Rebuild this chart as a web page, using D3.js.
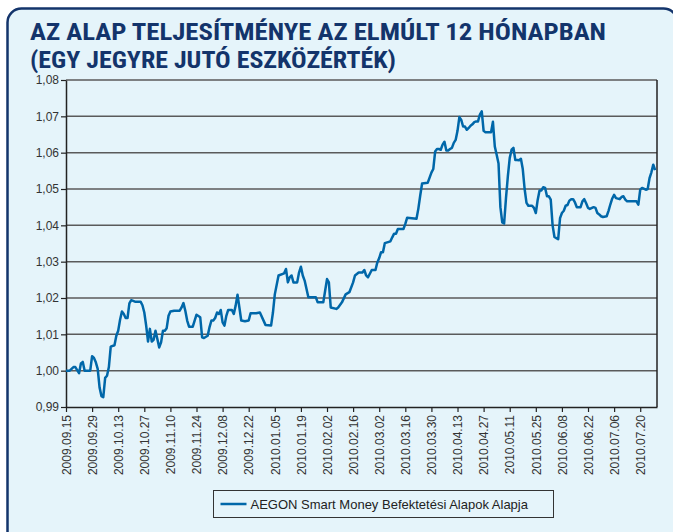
<!DOCTYPE html>
<html>
<head>
<meta charset="utf-8">
<script src="https://cdn.jsdelivr.net/npm/d3@7"></script>
<style>
  body { margin: 0; background: #fff; }
  svg { display: block; }
</style>
</head>
<body>
<div id="chart"></div>
<script>
// ---- data ----
const titleLines = ["AZ ALAP TELJESÍTMÉNYE AZ ELMÚLT 12 HÓNAPBAN", "(EGY JEGYRE JUTÓ ESZKÖZÉRTÉK)"];
const seriesName = "AEGON Smart Money Befektetési Alapok Alapja";
const dateRange = ["2009-09-15", "2010-07-29"];
const yTicks = [0.99, 1.00, 1.01, 1.02, 1.03, 1.04, 1.05, 1.06, 1.07, 1.08];
const xTickLabels = [
    "2009.09.15", "2009.09.29", "2009.10.13", "2009.10.27", "2009.11.10", "2009.11.24",
    "2009.12.08", "2009.12.22", "2010.01.05", "2010.01.19", "2010.02.02", "2010.02.16",
    "2010.03.02", "2010.03.16", "2010.03.30", "2010.04.13", "2010.04.27", "2010.05.11",
    "2010.05.25", "2010.06.08", "2010.06.22", "2010.07.06", "2010.07.20"
];

// net asset value per unit
const navPoints = [
    ["2009-09-15", 1.000], ["2009-09-17", 1.000], ["2009-09-19", 1.001], ["2009-09-20", 1.001],
    ["2009-09-22", 0.9993], ["2009-09-23", 1.002], ["2009-09-24", 1.0024], ["2009-09-25", 1.000],
    ["2009-09-28", 1.000], ["2009-09-29", 1.004], ["2009-09-30", 1.0035], ["2009-10-01", 1.0023],
    ["2009-10-02", 1.0005], ["2009-10-03", 0.9954], ["2009-10-04", 0.993], ["2009-10-05", 0.9927],
    ["2009-10-06", 0.998], ["2009-10-07", 0.9986], ["2009-10-08", 1.001], ["2009-10-09", 1.0066],
    ["2009-10-11", 1.007], ["2009-10-12", 1.0096], ["2009-10-13", 1.011], ["2009-10-14", 1.014],
    ["2009-10-15", 1.0163], ["2009-10-16", 1.0156], ["2009-10-17", 1.0145], ["2009-10-18", 1.0145],
    ["2009-10-19", 1.0185], ["2009-10-20", 1.0194], ["2009-10-22", 1.019], ["2009-10-25", 1.019],
    ["2009-10-26", 1.018], ["2009-10-27", 1.016], ["2009-10-28", 1.0124], ["2009-10-29", 1.008],
    ["2009-10-30", 1.0115], ["2009-10-31", 1.008], ["2009-11-01", 1.0085], ["2009-11-02", 1.011],
    ["2009-11-03", 1.0087], ["2009-11-04", 1.0064], ["2009-11-05", 1.0078], ["2009-11-06", 1.011],
    ["2009-11-07", 1.011], ["2009-11-08", 1.0117], ["2009-11-09", 1.0151], ["2009-11-10", 1.0163],
    ["2009-11-12", 1.0165], ["2009-11-15", 1.0165], ["2009-11-16", 1.0174], ["2009-11-17", 1.0186],
    ["2009-11-18", 1.0165], ["2009-11-19", 1.0138], ["2009-11-20", 1.0121], ["2009-11-22", 1.0121],
    ["2009-11-23", 1.0138], ["2009-11-24", 1.0154], ["2009-11-26", 1.0147], ["2009-11-27", 1.0092],
    ["2009-11-28", 1.009], ["2009-11-30", 1.0096], ["2009-12-01", 1.012], ["2009-12-02", 1.0138],
    ["2009-12-03", 1.0138], ["2009-12-04", 1.0145], ["2009-12-05", 1.016], ["2009-12-06", 1.0156],
    ["2009-12-07", 1.0167], ["2009-12-08", 1.0133], ["2009-12-09", 1.0124], ["2009-12-10", 1.0151],
    ["2009-12-11", 1.0167], ["2009-12-13", 1.0167], ["2009-12-14", 1.0156], ["2009-12-15", 1.0179],
    ["2009-12-16", 1.0209], ["2009-12-17", 1.0174], ["2009-12-18", 1.0138], ["2009-12-20", 1.0136],
    ["2009-12-22", 1.0138], ["2009-12-23", 1.0158], ["2009-12-26", 1.0158], ["2009-12-28", 1.016],
    ["2009-12-31", 1.0126], ["2010-01-03", 1.0124], ["2010-01-04", 1.016], ["2010-01-05", 1.021],
    ["2010-01-07", 1.0262], ["2010-01-10", 1.0268], ["2010-01-11", 1.028], ["2010-01-12", 1.0243],
    ["2010-01-13", 1.0257], ["2010-01-14", 1.0262], ["2010-01-15", 1.0243], ["2010-01-17", 1.0243],
    ["2010-01-18", 1.027], ["2010-01-19", 1.0286], ["2010-01-20", 1.0262], ["2010-01-21", 1.0248],
    ["2010-01-23", 1.0202], ["2010-01-27", 1.0202], ["2010-01-28", 1.0188], ["2010-01-31", 1.0188],
    ["2010-02-01", 1.022], ["2010-02-02", 1.0252], ["2010-02-03", 1.0243], ["2010-02-04", 1.0174],
    ["2010-02-07", 1.017], ["2010-02-08", 1.0174], ["2010-02-10", 1.0188], ["2010-02-12", 1.021],
    ["2010-02-14", 1.0216], ["2010-02-16", 1.0243], ["2010-02-17", 1.0262], ["2010-02-19", 1.027],
    ["2010-02-21", 1.027], ["2010-02-22", 1.0277], ["2010-02-23", 1.0262], ["2010-02-24", 1.0257],
    ["2010-02-26", 1.0277], ["2010-02-28", 1.0277], ["2010-03-01", 1.0298], ["2010-03-02", 1.031],
    ["2010-03-03", 1.0326], ["2010-03-04", 1.0326], ["2010-03-05", 1.0351], ["2010-03-08", 1.0356],
    ["2010-03-09", 1.0367], ["2010-03-10", 1.0377], ["2010-03-11", 1.0377], ["2010-03-12", 1.039],
    ["2010-03-15", 1.039], ["2010-03-16", 1.0404], ["2010-03-17", 1.0421], ["2010-03-22", 1.0418],
    ["2010-03-23", 1.0446], ["2010-03-24", 1.0482], ["2010-03-25", 1.0515], ["2010-03-28", 1.0517],
    ["2010-03-30", 1.0545], ["2010-03-31", 1.0555], ["2010-04-01", 1.0603], ["2010-04-02", 1.061],
    ["2010-04-03", 1.061], ["2010-04-04", 1.0608], ["2010-04-05", 1.0622], ["2010-04-06", 1.063],
    ["2010-04-07", 1.0606], ["2010-04-08", 1.0606], ["2010-04-09", 1.061], ["2010-04-10", 1.0613],
    ["2010-04-11", 1.0627], ["2010-04-12", 1.0635], ["2010-04-13", 1.066], ["2010-04-14", 1.0698],
    ["2010-04-15", 1.069], ["2010-04-16", 1.0672], ["2010-04-17", 1.0672], ["2010-04-18", 1.0663],
    ["2010-04-19", 1.0668], ["2010-04-20", 1.0674], ["2010-04-21", 1.0678], ["2010-04-22", 1.0684],
    ["2010-04-23", 1.0686], ["2010-04-24", 1.0686], ["2010-04-25", 1.0705], ["2010-04-26", 1.0714],
    ["2010-04-27", 1.066], ["2010-04-28", 1.0656], ["2010-04-30", 1.0656], ["2010-05-01", 1.0656],
    ["2010-05-02", 1.0685], ["2010-05-03", 1.0617], ["2010-05-04", 1.0594], ["2010-05-05", 1.057],
    ["2010-05-06", 1.045], ["2010-05-07", 1.0408], ["2010-05-08", 1.0405], ["2010-05-09", 1.0475],
    ["2010-05-10", 1.0535], ["2010-05-11", 1.0585], ["2010-05-12", 1.0608], ["2010-05-13", 1.0613],
    ["2010-05-14", 1.058], ["2010-05-15", 1.058], ["2010-05-16", 1.0579], ["2010-05-17", 1.0583],
    ["2010-05-18", 1.0555], ["2010-05-19", 1.050], ["2010-05-20", 1.0462], ["2010-05-21", 1.0454],
    ["2010-05-23", 1.0454], ["2010-05-24", 1.0448], ["2010-05-25", 1.0434], ["2010-05-26", 1.047],
    ["2010-05-27", 1.0496], ["2010-05-28", 1.0496], ["2010-05-29", 1.0505], ["2010-05-30", 1.0503],
    ["2010-05-31", 1.048], ["2010-06-01", 1.048], ["2010-06-02", 1.0471], ["2010-06-03", 1.040],
    ["2010-06-04", 1.0368], ["2010-06-05", 1.0365], ["2010-06-06", 1.0362], ["2010-06-07", 1.042],
    ["2010-06-08", 1.0434], ["2010-06-09", 1.044], ["2010-06-10", 1.0454], ["2010-06-11", 1.0456],
    ["2010-06-12", 1.0468], ["2010-06-13", 1.0472], ["2010-06-14", 1.0472], ["2010-06-15", 1.0463],
    ["2010-06-16", 1.045], ["2010-06-18", 1.045], ["2010-06-19", 1.0466], ["2010-06-20", 1.0472],
    ["2010-06-21", 1.0461], ["2010-06-22", 1.0448], ["2010-06-23", 1.0445], ["2010-06-25", 1.045],
    ["2010-06-26", 1.0448], ["2010-06-27", 1.0434], ["2010-06-28", 1.043], ["2010-06-29", 1.0425],
    ["2010-06-30", 1.0423], ["2010-07-02", 1.0425], ["2010-07-03", 1.044], ["2010-07-04", 1.0458],
    ["2010-07-05", 1.0474], ["2010-07-06", 1.0484], ["2010-07-07", 1.0475], ["2010-07-09", 1.0472],
    ["2010-07-10", 1.0478], ["2010-07-11", 1.048], ["2010-07-12", 1.0471], ["2010-07-13", 1.0466],
    ["2010-07-18", 1.0466], ["2010-07-19", 1.0457], ["2010-07-20", 1.0498], ["2010-07-21", 1.0503],
    ["2010-07-23", 1.0498], ["2010-07-24", 1.050], ["2010-07-25", 1.053], ["2010-07-26", 1.0546],
    ["2010-07-27", 1.0567], ["2010-07-28", 1.0552]
];

// ---- layout ----
const width = 673, height = 532;
const margin = ({ top: 80, right: 16, bottom: 125, left: 66 });
const navy = "#13346b";
const lineBlue = "#0067a9";
const bg = "#e5f4fa";

const parseDay = d3.timeParse("%Y-%m-%d");
const parseTick = d3.timeParse("%Y.%m.%d");
const data = navPoints.map(d => ({ date: parseDay(d[0]), value: d[1] }));

const xScale = d3.scaleTime()
    .domain(dateRange.map(parseDay))
    .range([margin.left, width - margin.right]);
const yScale = d3.scaleLinear()
    .domain([d3.min(yTicks), d3.max(yTicks)])
    .range([height - margin.bottom, margin.top]);

const svg = d3.select("#chart").append("svg")
    .attr("width", width)
    .attr("height", height)
    .style("font-family", "'Liberation Sans', Arial, sans-serif");

// card
svg.append("rect")
    .attr("x", 7.5).attr("y", 8.5)
    .attr("width", 670).attr("height", 540)
    .attr("rx", 14)
    .attr("fill", bg)
    .attr("stroke", navy)
    .attr("stroke-width", 2.5);

// title
const title = svg.append("g")
    .attr("fill", navy)
    .style("font-family", "'Liberation Sans Narrow', 'Roboto Condensed', 'Liberation Sans', sans-serif")
    .style("font-weight", "bold")
    .style("font-size", "24px");
const titleWidths = [576, 366];
titleLines.forEach((t, i) => {
    title.append("text")
        .attr("x", 30)
        .attr("y", 40 + i * 28)
        .attr("textLength", titleWidths[i])
        .attr("lengthAdjust", "spacingAndGlyphs")
        .text(t);
});

// gridlines
svg.append("g")
    .selectAll("line")
    .data(yTicks.slice(1))
    .join("line")
    .attr("x1", margin.left)
    .attr("x2", width - margin.right)
    .attr("y1", d => yScale(d))
    .attr("y2", d => yScale(d))
    .attr("stroke", "#5a5a5a")
    .attr("stroke-width", 1.5);

// right frame line
svg.append("line")
    .attr("x1", width - margin.right).attr("x2", width - margin.right)
    .attr("y1", margin.top).attr("y2", height - margin.bottom)
    .attr("stroke", "#222").attr("stroke-width", 1.5);

// y axis
const yAxis = svg.append("g")
    .attr("transform", `translate(${margin.left},0)`)
    .call(d3.axisLeft(yScale)
        .tickValues(yTicks)
        .tickSize(5)
        .tickSizeOuter(0)
        .tickFormat(d => d3.format(".2f")(d).replace(".", ",")));
yAxis.select(".domain").attr("stroke", "#222").attr("stroke-width", 1.5);
yAxis.selectAll(".tick line").attr("stroke", "#222").attr("stroke-width", 1.2);
yAxis.selectAll("text")
    .attr("x", -7)
    .attr("fill", "#333")
    .style("font-size", "12px");

// x axis
const xAxis = svg.append("g")
    .attr("transform", `translate(0,${height - margin.bottom})`)
    .call(d3.axisBottom(xScale)
        .tickValues(xTickLabels.map(parseTick))
        .tickSize(5)
        .tickSizeOuter(0)
        .tickFormat(d3.timeFormat("%Y.%m.%d")));
xAxis.select(".domain").attr("stroke", "#222").attr("stroke-width", 1.5);
xAxis.selectAll(".tick line").attr("stroke", "#222").attr("stroke-width", 1.2);
xAxis.selectAll("text")
    .attr("transform", "rotate(-90)")
    .attr("x", -8)
    .attr("y", 0)
    .attr("dy", "0.35em")
    .attr("text-anchor", "end")
    .attr("fill", "#333")
    .style("font-size", "12px");

// series line
const line = d3.line()
    .x(d => xScale(d.date))
    .y(d => yScale(d.value));

svg.append("path")
    .datum(data)
    .attr("fill", "none")
    .attr("stroke", lineBlue)
    .attr("stroke-width", 2.5)
    .attr("stroke-linejoin", "round")
    .attr("d", line);

// legend
const legend = svg.append("g").attr("transform", "translate(213.5,490.5)");
legend.append("rect")
    .attr("width", 340).attr("height", 27)
    .attr("fill", bg)
    .attr("stroke", "#333")
    .attr("stroke-width", 1);
legend.append("line")
    .attr("x1", 7).attr("x2", 33)
    .attr("y1", 13.5).attr("y2", 13.5)
    .attr("stroke", lineBlue)
    .attr("stroke-width", 2.5);
legend.append("text")
    .attr("x", 37)
    .attr("y", 18)
    .attr("fill", "#222")
    .style("font-size", "13px")
    .text(seriesName);
</script>
</body>
</html>
